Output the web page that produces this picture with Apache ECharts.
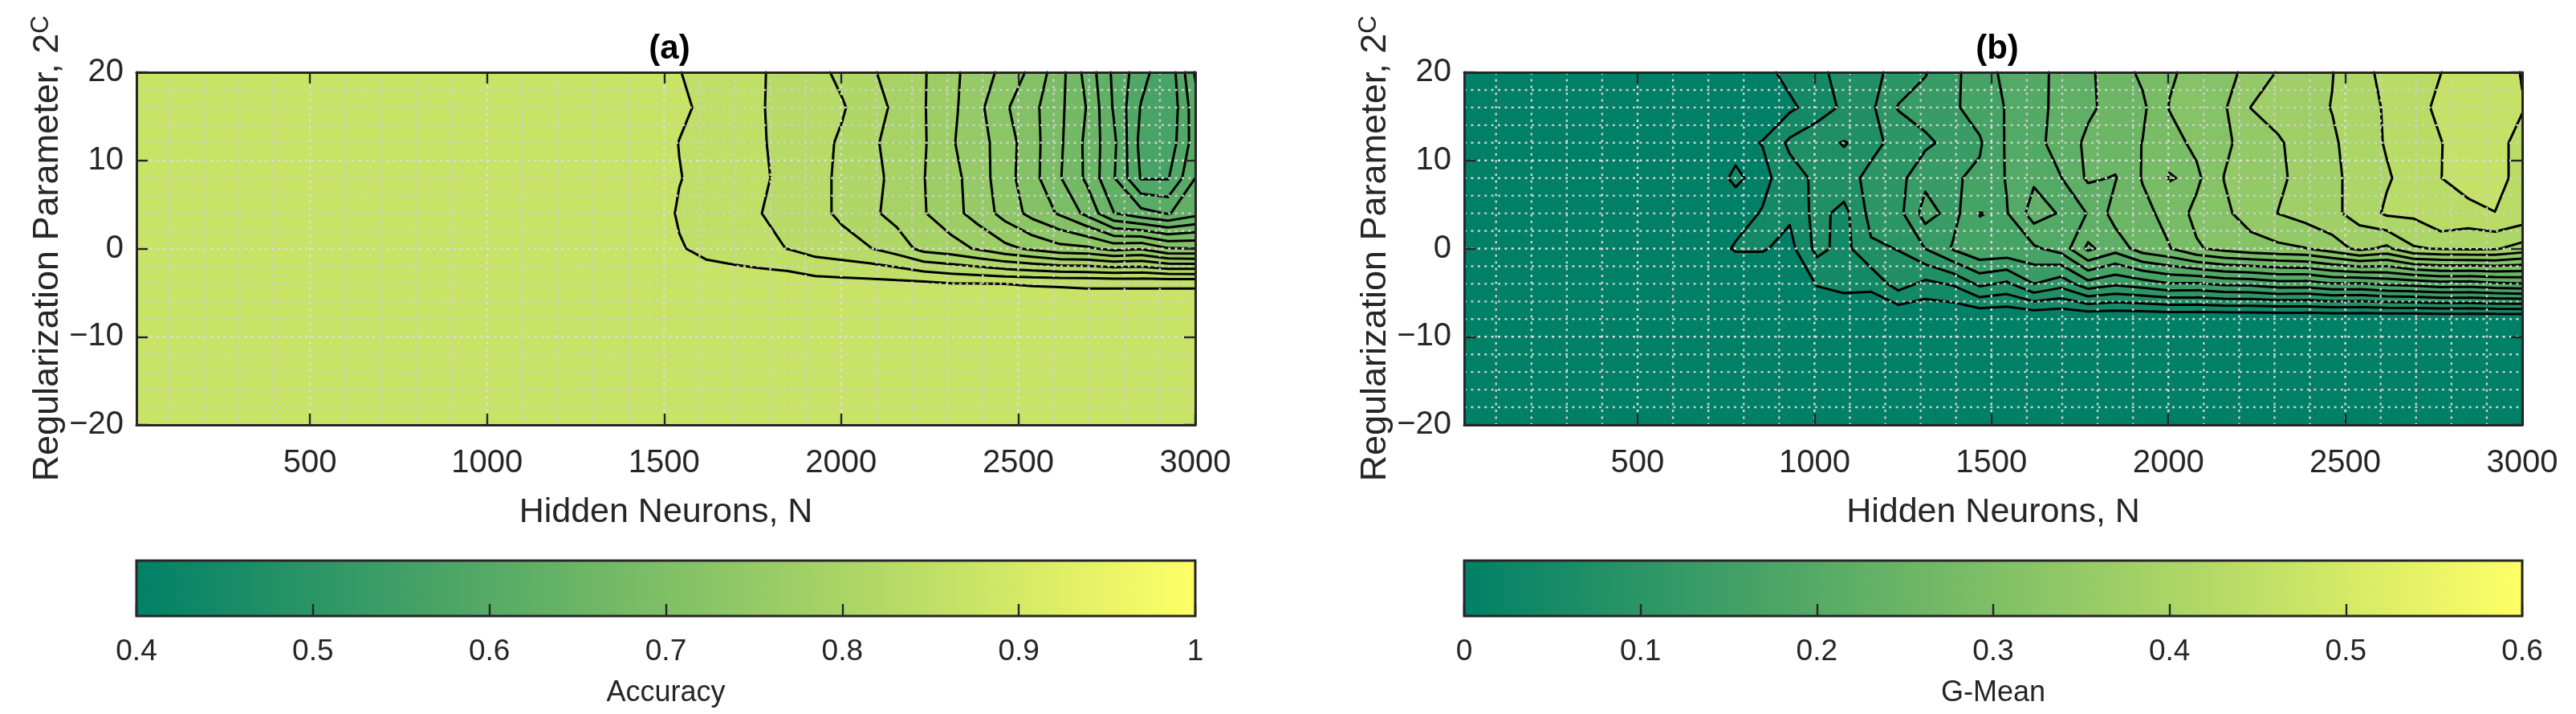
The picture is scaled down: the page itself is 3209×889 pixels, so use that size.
<!DOCTYPE html>
<html><head><meta charset="utf-8">
<style>html,body{margin:0;padding:0;background:#fff}#c{width:3209px;height:889px}</style>
<script src="https://cdn.jsdelivr.net/npm/echarts@6/dist/echarts.min.js"></script>
</head><body><div id="c"></div>
<script>
// mesh of the two surfaces
const hiddenNeurons=[10,87,163,240,317,393,470,547,623,700,777,853,930,1007,1083,1160,1237,1313,1390,1467,1543,1620,1697,1773,1850,1927,2003,2080,2157,2233,2310,2387,2463,2540,2617,2693,2770,2847,2923,3000];
const regParam=[20,16,12,8,4,0,-4,-8,-12,-16,-20];

// (a) accuracy, one row per C value
const accP20=[.87,.87,.87,.87,.87,.87,.87,.87,.87,.87,.87,.87,.87,.87,.87,.87,.87,.87,.87,.87,.8605,.854,.848,.8415,.8336,.8254,.8156,.8029,.792,.7817,.7653,.7498,.7341,.7147,.6877,.6533,.6157,.588,.5636,.6228];
const accP16=[.87,.87,.87,.87,.87,.87,.87,.87,.87,.87,.87,.87,.87,.87,.87,.87,.87,.87,.87,.87,.8645,.855,.848,.841,.8346,.8282,.8217,.8096,.7955,.7813,.7654,.7451,.7227,.7053,.6845,.6594,.6178,.5785,.562,.612];
const accP12=[.87,.87,.87,.87,.87,.87,.87,.87,.87,.87,.87,.87,.87,.87,.87,.87,.87,.87,.87,.87,.8595,.8535,.8476,.8416,.8342,.8263,.8173,.8041,.7927,.7821,.7623,.7477,.7298,.707,.6836,.6557,.6243,.5736,.5667,.61];
const accP8=[.87,.87,.87,.87,.87,.87,.87,.87,.87,.87,.87,.87,.87,.87,.87,.87,.87,.87,.87,.87,.8607,.8545,.8485,.8427,.835,.8257,.8162,.8062,.7947,.7806,.7669,.7497,.7283,.7067,.6816,.6566,.6215,.5785,.5785,.62];
const accP4=[.87,.87,.87,.87,.87,.87,.87,.87,.87,.87,.87,.87,.87,.87,.87,.87,.87,.87,.87,.87,.858,.852,.8461,.8403,.8328,.8253,.8165,.8046,.793,.7814,.7675,.7517,.7327,.7133,.6975,.675,.6405,.627,.6185,.633];
const acc0=[.87,.87,.87,.87,.87,.87,.87,.87,.87,.87,.87,.87,.87,.87,.87,.87,.87,.87,.87,.87,.8615,.8554,.85,.8447,.8395,.8314,.8268,.821,.8108,.7935,.788,.7775,.7652,.756,.7463,.744,.7336,.738,.7215,.72];
const accM4=[.87,.87,.87,.87,.87,.87,.87,.87,.87,.87,.87,.87,.87,.87,.87,.87,.87,.87,.87,.87,.87,.87,.872,.872,.8717,.868,.8674,.8666,.8658,.8649,.861,.8606,.86,.8593,.859,.8585,.8585,.8585,.8585,.8585];
const accFlat=[.87,.87,.87,.87,.87,.87,.87,.87,.87,.87,.87,.87,.87,.87,.87,.87,.87,.87,.87,.87,.87,.87,.87,.87,.87,.87,.87,.87,.87,.87,.87,.87,.87,.87,.87,.87,.87,.87,.87,.87];
const accuracyRows=[accP20,accP16,accP12,accP8,accP4,acc0,accM4,accFlat,accFlat,accFlat,accFlat];
const accuracyLevels=[.58,.6,.62,.64,.66,.68,.7,.72,.74,.76,.78,.8,.82,.84,.86];

// (b) G-mean, one row per C value
const gmP20=[0,0,0,0,0,0,0,0,0,0,.005,.02,.0399,.0541,.0683,.0823,.0991,.1178,.1421,.1669,.1868,.2013,.2171,.2347,.255,.276,.296,.3096,.3215,.3378,.3624,.3757,.3889,.4116,.4272,.4384,.4497,.46,.47,.448];
const gmP16=[0,0,0,0,0,0,0,0,0,0,.01,.015,.024,.0438,.0656,.0844,.1223,.1338,.1454,.162,.1819,.2006,.2183,.235,.25,.2643,.3013,.3138,.3263,.3605,.37,.38,.391,.4067,.4235,.4412,.4555,.465,.47,.452];
const gmP12=[0,0,0,0,0,0,0,0,0,0,.0228,.031,.0661,.0832,.0912,.0832,.0979,.1137,.13,.1467,.1833,.2,.2233,.246,.258,.2705,.2888,.3071,.3247,.3411,.3568,.3714,.3857,.404,.4227,.4359,.4492,.462,.46,.44];
const gmP8=[0,0,0,0,0,0,0,0,0,.019,.034,.0215,.0467,.0663,.0807,.0964,.11,.142,.147,.155,.182,.205,.2093,.245,.238,.272,.302,.2937,.3305,.3425,.355,.369,.384,.4,.4167,.4329,.4495,.465,.46,.44];
const gmP4=[0,0,0,0,0,0,0,0,0,.008,.0185,.032,.035,.0702,.05,.1,.11,.1627,.1387,.1805,.178,.2244,.2068,.2102,.2529,.2605,.2809,.3085,.3244,.3421,.3605,.3717,.3833,.4013,.4249,.4258,.449,.439,.4495,.44];
const gm0=[0,0,0,0,0,0,0,0,0,.015,.033,.033,.02,.0689,.05,.0853,.091,.1205,.1525,.175,.173,.175,.192,.2465,.2215,.255,.2685,.2963,.31,.319,.3236,.329,.345,.368,.3535,.387,.3925,.394,.393,.379];
const gmM4=[0,0,0,0,0,0,0,0,0,0,0,0,0,.0322,.0408,.0388,.074,.0525,.063,.0967,.0844,.12,.1015,.1395,.125,.135,.148,.146,.156,.158,.168,.166,.178,.176,.186,.19,.198,.196,.204,.208];
const gmFlat=[0,0,0,0,0,0,0,0,0,0,0,0,0,0,0,0,0,0,0,0,0,0,0,0,0,0,0,0,0,0,0,0,0,0,0,0,0,0,0,0];
const gmeanRows=[gmP20,gmP16,gmP12,gmP8,gmP4,gm0,gmM4,gmFlat,gmFlat,gmFlat,gmFlat];
const gmeanLevels=[.03,.06,.09,.12,.15,.18,.21,.24,.27,.3,.33,.36,.39,.42,.45];

// tick labels and grid positions
const xTicks=[500,1000,1500,2000,2500,3000];
const minorX=[100,200,300,400,600,700,800,900,1100,1200,1300,1400,1600,1700,1800,1900,2100,2200,2300,2400,2600,2700,2800,2900];
const majorX=[500,1000,1500,2000,2500];
const minorY=[18,16,14,12,8,6,4,2,-2,-4,-6,-8,-12,-14,-16,-18];
const majorY=[10,0,-10];

const FONT='Liberation Sans',INK='#262626';
function summer(t){t=Math.max(0,Math.min(1,t));
  return 'rgb('+Math.round(255*t)+','+Math.round(255*(.5+.5*t))+',102)';}

function cross(a,b,L){const t=(L-a[2])/(b[2]-a[2]);return[a[0]+t*(b[0]-a[0]),a[1]+t*(b[1]-a[1]),L];}
function isSaddle(p,L){const q=p.map(v=>v[2]>=L);return q[0]===q[2]&&q[1]===q[3]&&q[0]!==q[1];}
function centre(p){return(p[0][2]+p[1][2]+p[2][2]+p[3][2])/4;}
// clip one mesh cell to value>=L, in data units; returns a list of polygons
function clipCell(p,L){
  if(isSaddle(p,L)&&centre(p)<L){const out=[];
    for(let i=0;i<4;i++)if(p[i][2]>=L)out.push([p[i],cross(p[i],p[(i+1)%4],L),cross(p[i],p[(i+3)%4],L)]);
    return out;}
  const o=[];
  for(let i=0;i<4;i++){const a=p[i],b=p[(i+1)%4];const ia=a[2]>=L,ib=b[2]>=L;
    if(ia)o.push(a);
    if(ia!==ib)o.push(cross(a,b,L));}
  return o.length>=3?[o]:[];}
function cellSegs(p,L){
  if(isSaddle(p,L)){const low=centre(p)<L;const start=((p[0][2]>=L)===low)?0:1;
    // isolate the two corners start and start+2
    const segs=[];
    [start,(start+2)%4].forEach(i=>segs.push([cross(p[i],p[(i+1)%4],L),cross(p[i],p[(i+3)%4],L)]));
    return segs;}
  const c=[];
  for(let i=0;i<4;i++){const a=p[i],b=p[(i+1)%4];if((a[2]>=L)!==(b[2]>=L))c.push(cross(a,b,L));}
  return c.length===2?[[c[0],c[1]]]:[];}
function eachCell(rows,fn){for(let r=0;r<rows.length-1;r++)for(let k=0;k<hiddenNeurons.length-1;k++){
  fn([[hiddenNeurons[k],regParam[r],rows[r][k]],[hiddenNeurons[k+1],regParam[r],rows[r][k+1]],
      [hiddenNeurons[k+1],regParam[r+1],rows[r+1][k+1]],[hiddenNeurons[k],regParam[r+1],rows[r+1][k]]]);}}

function surfaceSeries(ax,rows,levels,cMin,cMax,baseVal,half){
  const data=[[baseVal,0]].concat(levels.map(l=>[l,0]));
  const col=v=>summer((v-cMin)/(cMax-cMin));
  return [{
    type:'custom',xAxisIndex:ax,yAxisIndex:ax,z:2,silent:true,animation:false,clip:false,data,
    encode:{x:0,y:1},
    renderItem(params,api){
      const i=params.dataIndex;
      if(i===0){const a=api.coord([10,20]),b=api.coord([3000,-20]);
        return{type:'rect',shape:{x:a[0],y:a[1],width:b[0]-a[0],height:b[1]-a[1]},style:{fill:col(baseVal)}};}
      const L=levels[i-1];let d='';
      eachCell(rows,p=>{clipCell(p,L).forEach(q=>{
        q.forEach((pt,n)=>{const c=api.coord([pt[0],pt[1]]);d+=(n?'L':'M')+c[0].toFixed(2)+' '+c[1].toFixed(2);});d+='Z';});});
      if(!d)return null;
      const f=col(L+half);
      return{type:'path',shape:{pathData:d},style:{fill:f,stroke:f,lineWidth:.5}};
    }
  },{
    type:'custom',xAxisIndex:ax,yAxisIndex:ax,z:3,silent:true,animation:false,clip:false,data:levels.map(l=>[l,0]),
    encode:{x:0,y:1},
    renderItem(params,api){
      const L=levels[params.dataIndex];let d='';
      eachCell(rows,p=>{cellSegs(p,L).forEach(s=>{const a=api.coord(s[0]),b=api.coord(s[1]);
        d+='M'+a[0].toFixed(2)+' '+a[1].toFixed(2)+'L'+b[0].toFixed(2)+' '+b[1].toFixed(2);});});
      if(!d)return null;
      return{type:'path',shape:{pathData:d},style:{fill:'none',stroke:'#000',lineWidth:3,lineCap:'round',lineJoin:'round'}};
    }
  },{
    type:'custom',xAxisIndex:ax,yAxisIndex:ax,z:4,silent:true,animation:false,clip:false,data:[[10,0]],
    encode:{x:0,y:1},
    renderItem(params,api){
      const kids=[];
      const line=(a,b,c)=>{const p=api.coord(a),q=api.coord(b);
        kids.push({type:'line',shape:{x1:p[0],y1:p[1],x2:q[0],y2:q[1]},style:{stroke:c,lineWidth:2.4,lineDash:[3,5.4],lineCap:'butt'}});};
      minorY.forEach(v=>line([10,v],[3000,v],'#cfcfcf'));
      majorY.forEach(v=>line([10,v],[3000,v],'#dedede'));
      minorX.forEach(v=>line([v,20],[v,-20],'#cfcfcf'));
      majorX.forEach(v=>line([v,20],[v,-20],'#dedede'));
      return{type:'group',children:kids};
    }
  }];
}
function colorbarSeries(ax,lo,hi){
  return{type:'custom',xAxisIndex:ax,yAxisIndex:ax,z:2,silent:true,animation:false,clip:false,data:[[lo,0]],
    encode:{x:0,y:1},
    renderItem(params,api){const a=api.coord([lo,1]),b=api.coord([hi,0]);
      return{type:'rect',shape:{x:a[0],y:a[1],width:b[0]-a[0],height:b[1]-a[1]},
        style:{fill:{type:'linear',x:0,y:0,x2:1,y2:0,colorStops:[{offset:0,color:summer(0)},{offset:1,color:summer(1)}]},stroke:INK,lineWidth:3}};}};
}
const tickStyle={inside:true,length:14,lineStyle:{color:INK,width:2.4}};
const lineStyle={show:true,onZero:false,lineStyle:{color:INK,width:3}};
function panelAxes(g){
  const xs=[{gridIndex:g,type:'value',min:10,max:3000,position:'bottom',z:10,name:'Hidden Neurons, N',nameLocation:'middle',nameGap:88,
      nameTextStyle:{fontFamily:FONT,fontSize:43,color:INK},
      axisLine:lineStyle,axisTick:Object.assign({customValues:xTicks},tickStyle),
      axisLabel:{customValues:xTicks,fontFamily:FONT,fontSize:40,color:INK,margin:28,formatter:v=>String(v)},splitLine:{show:false}},
    {gridIndex:g,type:'value',min:10,max:3000,position:'top',z:10,axisLine:lineStyle,
      axisTick:Object.assign({customValues:xTicks},tickStyle),axisLabel:{show:false},splitLine:{show:false}}];
  const ys=[{gridIndex:g,type:'value',min:-20,max:20,interval:10,position:'left',z:10,
      name:'Regularization Parameter, 2{sup|C}',nameLocation:'middle',nameRotate:90,nameGap:86,
      nameTextStyle:{fontFamily:FONT,fontSize:45,color:INK,rich:{sup:{fontFamily:FONT,fontSize:31,color:INK,verticalAlign:'top',padding:[0,0,16,0]}}},
      axisLine:lineStyle,axisTick:tickStyle,
      axisLabel:{fontFamily:FONT,fontSize:40,color:INK,margin:16,formatter:v=>String(v).replace('-','\u2212')},splitLine:{show:false}},
    {gridIndex:g,type:'value',min:-20,max:20,interval:10,position:'right',z:10,axisLine:lineStyle,axisTick:tickStyle,axisLabel:{show:false},splitLine:{show:false}}];
  return{xs,ys};
}
const pa=panelAxes(0),pb=panelAxes(2);
function barAxis(g,lo,hi,name){
  return{gridIndex:g,type:'value',min:lo,max:hi,interval:.1,position:'bottom',z:10,name,nameLocation:'middle',nameGap:78,
   nameTextStyle:{fontFamily:FONT,fontSize:36,color:INK},axisLine:{show:false},axisTick:Object.assign({},tickStyle,{length:15}),
   axisLabel:{fontFamily:FONT,fontSize:37,color:INK,margin:26},splitLine:{show:false}};
}
const xAxes=[pa.xs[0],pa.xs[1],barAxis(1,.4,1,'Accuracy'),pb.xs[0],pb.xs[1],barAxis(3,0,.6,'G-Mean')];
const hiddenY=g=>({gridIndex:g,type:'value',min:0,max:1,show:false,splitLine:{show:false}});
const yAxes=[pa.ys[0],pa.ys[1],hiddenY(1),pb.ys[0],pb.ys[1],hiddenY(3)];
const titleStyle={fontFamily:FONT,fontSize:42,fontWeight:'bold',color:'#000'};
const chart=echarts.init(document.getElementById('c'),null,{renderer:'canvas'});
chart.setOption({
  animation:false,backgroundColor:'#fff',
  title:[{text:'(a)',left:829,top:35,textAlign:'center',textStyle:titleStyle},
         {text:'(b)',left:2483,top:35,textAlign:'center',textStyle:titleStyle}],
  grid:[{left:170,top:90,width:1319,height:439},{left:170,top:698,width:1319,height:69},
        {left:1824,top:90,width:1318,height:439},{left:1824,top:698,width:1318,height:69}],
  xAxis:xAxes,yAxis:yAxes,
  series:[].concat(
    surfaceSeries(0,accuracyRows,accuracyLevels,.4,1,.57,.01),
    [colorbarSeries(2,.4,1)],
    surfaceSeries(3,gmeanRows,gmeanLevels,0,.6,0,.015),
    [colorbarSeries(5,0,.6)])
});
</script></body></html>
